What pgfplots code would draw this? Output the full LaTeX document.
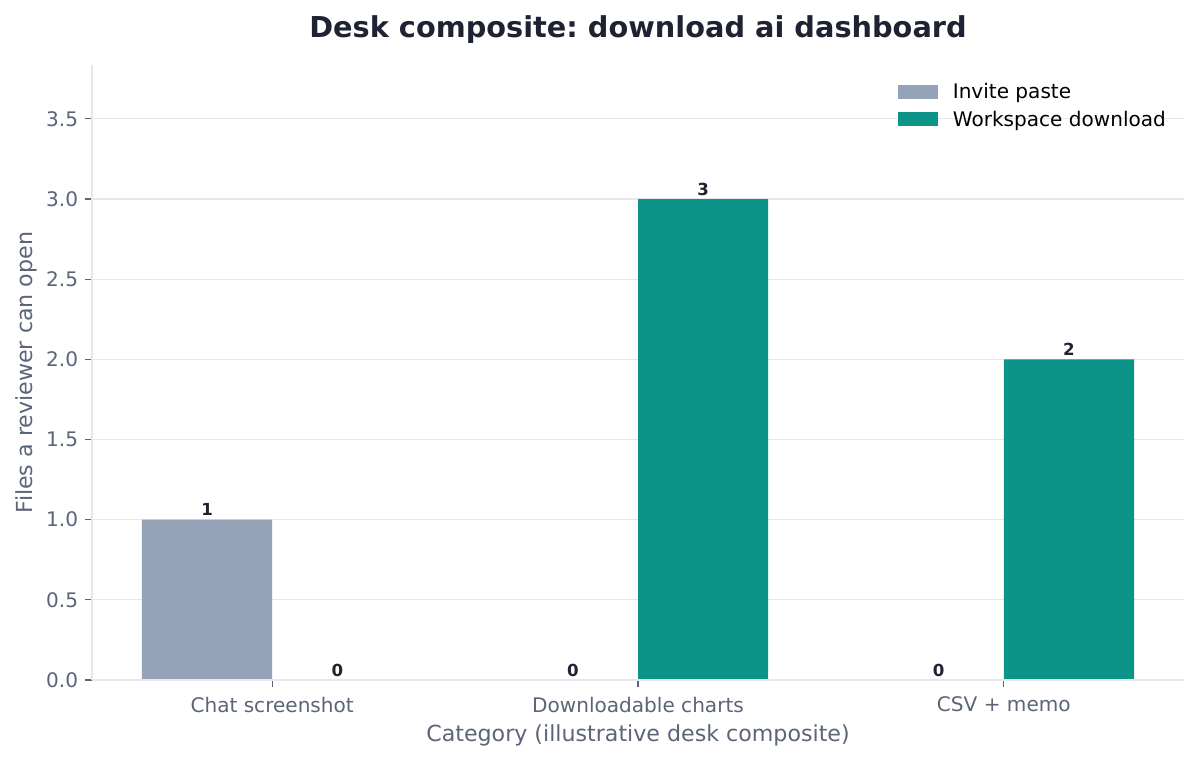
\documentclass[border=0pt]{standalone}
\usepackage{pgfplots}
\pgfplotsset{compat=1.18}
\usepackage{fontspec}
\setmainfont{DejaVu Sans}
\frenchspacing

\definecolor{invite}{HTML}{94A3B8}
\definecolor{workspace}{HTML}{0D9488}
\definecolor{txtgray}{HTML}{5B6478}
\definecolor{titlecol}{HTML}{1E2232}
\definecolor{gridcol}{HTML}{E5E7EB}

\begin{document}
\begin{tikzpicture}
\begin{axis}[
    scale only axis,
    width=10.92in, height=6.15in,
    xmin=-0.4925, xmax=2.4925,
    ymin=0, ymax=3.836,
    axis x line*=bottom, axis y line*=left,
    axis line style={gridcol, line width=0.8pt},
    x axis line style={-}, y axis line style={-},
    xtick={0,1,2},
    xticklabels={Chat screenshot, Downloadable charts, CSV + memo},
    ytick={0,0.5,...,3.5},
    yticklabel style={xshift=-0.02in, /pgf/number format/.cd, fixed, fixed zerofill, precision=1},
    xticklabel style={yshift=-0.05in},
    /pgf/number format/assume math mode=true,
    tick style={txtgray, line width=0.8pt},
    major tick length=0.07in,
    tick align=outside,
    ticklabel style={font=\fontsize{14.5}{17}\selectfont, text=txtgray},
    ymajorgrids,
    grid style={gridcol, line width=0.8pt},
    xlabel={Category (illustrative desk composite)},
    ylabel={Files a reviewer can open},
    label style={font=\fontsize{16}{19}\selectfont, text=txtgray},
    xlabel style={yshift=-0.03in},
    title={Desk composite: download ai dashboard},
    title style={font=\fontsize{20.8}{25}\selectfont\bfseries, text=titlecol, yshift=0.08in},
    ybar, bar width=0.356,
    nodes near coords,
    every node near coord/.append style={font=\fontsize{12}{14}\selectfont\bfseries, text=titlecol, inner sep=2.5pt},
    legend style={draw=none, fill=none, at={(0.99,0.98)}, anchor=north east,
        font=\fontsize{14.5}{17}\selectfont, row sep=3.5pt,
        /tikz/every odd column/.append style={column sep=0.12in}},
    legend image code/.code={\fill[#1] (0in,-0.07in) rectangle (0.4in,0.07in);},
    legend cell align=left,
    clip=false,
]
\addplot[fill=invite, draw=none, bar shift=-0.178] coordinates {(0,1) (1,0) (2,0)};
\addlegendentry{Invite paste}
\addplot[fill=workspace, draw=none, bar shift=0.178] coordinates {(0,0) (1,3) (2,2)};
\addlegendentry{Workspace download}
\draw[gridcol, line width=0.8pt] (rel axis cs:0,0) -- (rel axis cs:1,0);
\coordinate (ll) at (rel axis cs:0,0);
\coordinate (ur) at (rel axis cs:1,1);
\end{axis}
\pgfresetboundingbox
\path ([shift={(-0.92in,-0.80in)}]ll) rectangle ([shift={(0.15in,0.65in)}]ur);
\end{tikzpicture}
\end{document}
